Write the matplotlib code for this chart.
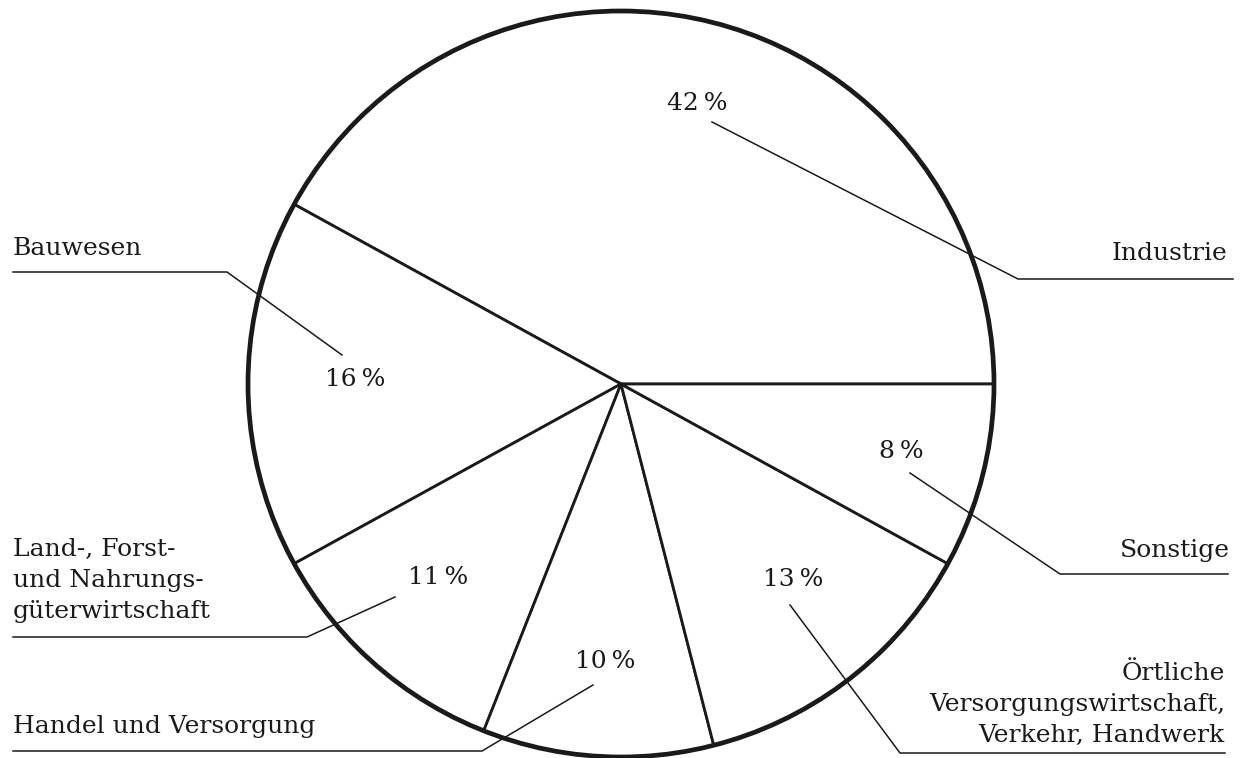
import matplotlib
matplotlib.use('Agg')
import matplotlib.pyplot as plt
from matplotlib.patches import Circle

# data
sectors = ['Industrie', 'Bauwesen', 'Land-, Forst-\nund Nahrungs-\ngüterwirtschaft',
           'Handel und Versorgung', 'Örtliche\nVersorgungswirtschaft,\nVerkehr, Handwerk',
           'Sonstige']
shares = [42, 16, 11, 10, 13, 8]

# layout (pixel coords, y from top); label y = baseline of the last line
pie_center = (621, 384)
pie_radius = 373
pct_pos = [(697, 103), (355, 380), (438, 577), (605, 662), (793, 580), (901, 452)]
leaders = [
    [(712, 122), (1018, 279), (1233, 279)],
    [(342, 355), (227, 272), (13, 272)],
    [(395, 597), (307, 637), (13, 637)],
    [(593, 685), (482, 751), (13, 751)],
    [(790, 605), (900, 753), (1225, 753)],
    [(910, 473), (1060, 574), (1228, 574)],
]
label_pos = [(1227, 260, 'right'), (13, 255, 'left'), (13, 618, 'left'),
             (13, 733, 'left'), (1225, 742, 'right'), (1230, 557, 'right')]

plt.rcParams['font.family'] = ['DejaVu Serif']
ink = '#1a1a1a'

fig = plt.figure(figsize=(12.4, 7.58), dpi=100)
ax = fig.add_axes([0, 0, 1, 1])

#Pie (y axis is flipped, so clockwise in data = counterclockwise on screen)
ax.pie(shares, center=pie_center, radius=pie_radius, startangle=0, counterclock=False,
       frame=True, wedgeprops=dict(facecolor='white', edgecolor=ink, linewidth=2.0))
ax.add_patch(Circle(pie_center, pie_radius, fill=False, edgecolor=ink, linewidth=3.4, zorder=5))

ax.set_xlim(0, 1240)
ax.set_ylim(758, 0)
ax.set_aspect('equal')
ax.axis('off')

for share, (x, y) in zip(shares, pct_pos):
    ax.text(x, y, '%d\u2009%%' % share, ha='center', va='center', fontsize=18, color=ink)

for pts in leaders:
    xs = [p[0] for p in pts]
    ys = [p[1] for p in pts]
    ax.plot(xs, ys, color=ink, linewidth=1.1, zorder=6)

for name, (x, y, ha) in zip(sectors, label_pos):
    ax.text(x, y, name, ha=ha, va='baseline', multialignment=ha, fontsize=18,
            color=ink, linespacing=1.45)

fig.savefig('out.png', dpi=100, facecolor='white')
